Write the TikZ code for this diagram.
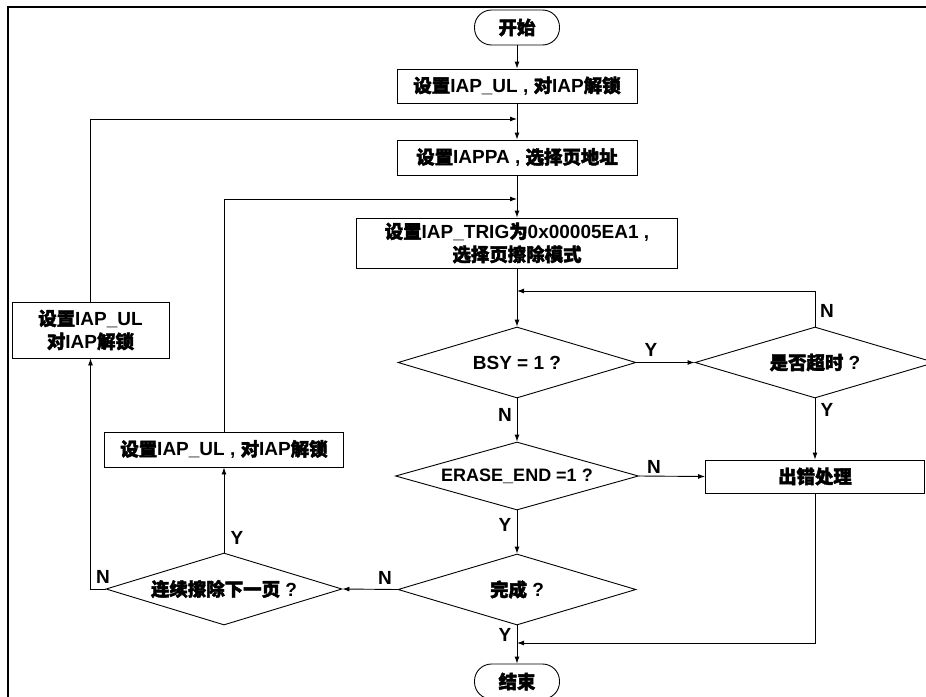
\documentclass[tikz,border=0pt]{standalone}
\usepackage{fontspec}
\setmainfont{Liberation Sans}
\newfontfamily\cjk{Noto Sans CJK SC}[Scale=0.97, FakeBold=2.2]
\newcommand\zh[1]{{\cjk #1}}
\usetikzlibrary{arrows.meta,shapes.geometric}
\tikzset{
  every node/.style={font=\bfseries\fontsize{19}{23}\selectfont},
  box/.style={draw, line width=0.9pt, inner sep=0pt, align=center},
  term/.style={draw, line width=0.9pt, rounded corners=17pt, minimum width=85pt, minimum height=35pt, inner sep=0pt},
  dia/.style={draw, diamond, aspect=3.3, line width=0.9pt, inner sep=0pt},
  arr/.style={line width=0.9pt, -{Latex[length=7pt,width=5pt]}},
  lab/.style={inner sep=0pt}
}
\begin{document}
\begin{tikzpicture}[x=1pt,y=-1pt]
\useasboundingbox (0,0) rectangle (926,696);
\draw[line width=2.3pt] (926,7) -- (8,7) -- (8,700);
% nodes
\node[term] (start) at (517,27.5) {\zh{开始}};
\node[box, minimum width=240pt, minimum height=34pt] (b1) at (517,86) {\zh{设置}IAP\_UL , \zh{对}IAP\zh{解锁}};
\node[box, minimum width=240pt, minimum height=35pt] (b2) at (517,157.5) {\zh{设置}IAPPA , \zh{选择页地址}};
\node[box, minimum width=321pt, minimum height=50pt] (b3) at (517,243) {\zh{设置}IAP\_TRIG\zh{为}0x00005EA1 ,\\\zh{选择页擦除模式}};
\node[dia, minimum width=238pt, minimum height=71pt] (bsy) at (517,362.5) {BSY = 1 ?};
\node[dia, minimum width=240pt, minimum height=71pt] (to) at (815,362.5) {\zh{是否超时} ?};
\node[dia, minimum width=243pt, minimum height=68pt] (ee) at (517,476) {\fontsize{18}{22}\selectfont ERASE\_END =1 ?};
\node[box, minimum width=219pt, minimum height=33pt] (err) at (815,476.5) {\zh{出错处理}};
\node[dia, minimum width=238pt, minimum height=71pt] (done) at (517,589.5) {\zh{完成} ?};
\node[dia, minimum width=236pt, minimum height=72pt] (cont) at (224,589) {\zh{连续擦除下一页} ?};
\node[box, minimum width=239pt, minimum height=35pt] (b4) at (224,449.5) {\zh{设置}IAP\_UL , \zh{对}IAP\zh{解锁}};
\node[box, minimum width=157pt, minimum height=56pt] (b5) at (90.5,330) {\zh{设置}IAP\_UL\\\zh{对}IAP\zh{解锁}};
\node[term] (end) at (517,681.5) {\zh{结束}};
% helper coordinates
\coordinate (j1) at (517,119);
\coordinate (j2) at (517,199);
\coordinate (j3) at (517,291);
\coordinate (j4) at (517,643);
% connectors
\draw[arr] (start) -- (b1);
\draw[arr] (b1) -- (b2);
\draw[arr] (b2) -- (b3);
\draw[arr] (b3) -- (bsy);
\draw[arr] (bsy.east) -- (to.west);
\draw[arr] (to.north) |- (j3);
\draw[arr] (to.south) -- (err.north);
\draw[arr] (bsy.south) -- (ee.north);
\draw[arr] (ee.east) -- (err.west);
\draw[arr] (ee.south) -- (done.north);
\draw[arr] (done.south) -- (end.north);
\draw[arr] (err.south) |- (j4);
\draw[arr] (done.west) -- (cont.east);
\draw[arr] (cont.north) -- (b4.south);
\draw[arr] (cont.west) -| (b5.south);
\draw[arr] (b5.north) |- (j1);
\draw[arr] (b4.north) |- (j2);
% labels
\node[lab] (l1) at (651,350) {Y};
\node[lab] (l2) at (827,311) {N};
\node[lab] (l3) at (827,410) {Y};
\node[lab] (l4) at (505,415) {N};
\node[lab] (l5) at (654,467) {N};
\node[lab] (l6) at (505,525) {Y};
\node[lab] (l7) at (505,635) {Y};
\node[lab] (l8) at (385,578) {N};
\node[lab] (l9) at (237,538) {Y};
\node[lab] (l10) at (103,577) {N};
\end{tikzpicture}
\end{document}
